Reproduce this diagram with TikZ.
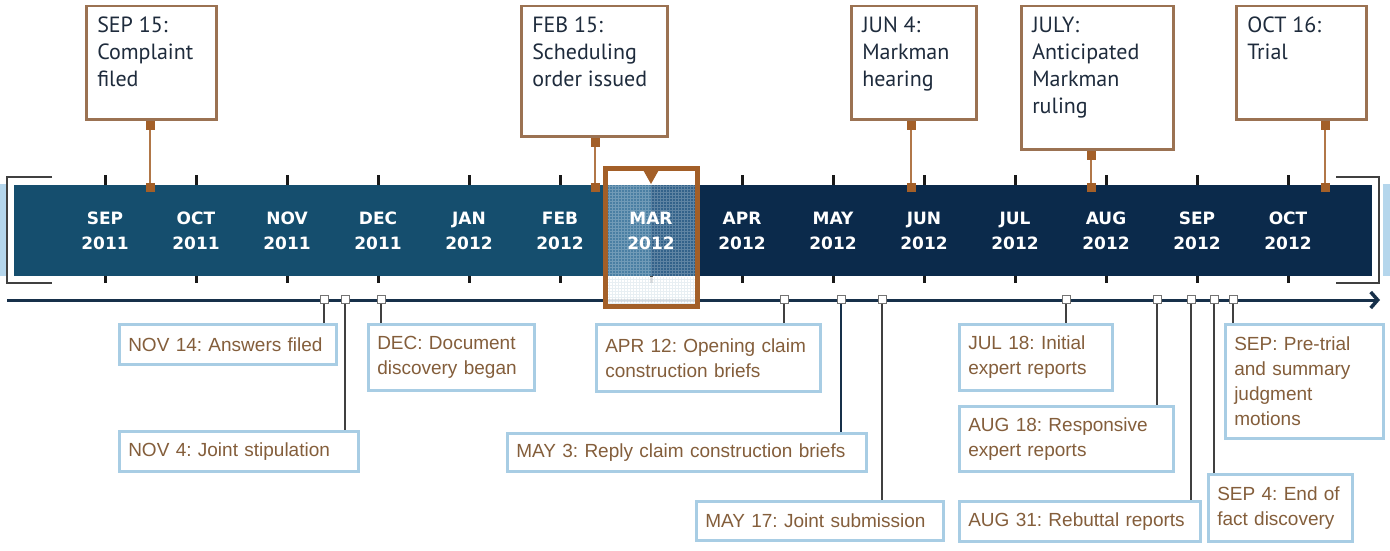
\documentclass[tikz,border=0pt]{standalone}
\usepackage{fontspec}
\setmainfont{Liberation Sans}
\newfontfamily\topfont{PT Sans}
\newfontfamily\monthfont{DejaVu Sans}
\usetikzlibrary{arrows.meta,shadows}
\definecolor{barA}{HTML}{154E6E}
\definecolor{barB}{HTML}{0B2A4B}
\definecolor{marA}{HTML}{4A7FA3}
\definecolor{marB}{HTML}{33628A}
\definecolor{brn}{HTML}{A35F28}
\definecolor{tborder}{HTML}{9B7252}
\definecolor{ttext}{HTML}{1E2B3C}
\definecolor{lborder}{HTML}{A8CDE4}
\definecolor{ltext}{HTML}{845E3B}
\definecolor{lineC}{HTML}{17304A}
\definecolor{strip}{HTML}{B5D6EC}
\frenchspacing
\begin{document}
\frenchspacing
\begin{tikzpicture}[x=1pt,y=-1pt,
  tbox/.style={draw=tborder, line width=2.5pt, fill=white, anchor=north west,
    inner xsep=11pt, inner ysep=11pt, text=ttext,
    font=\topfont\fontsize{22}{27}\selectfont,
    drop shadow={shadow xshift=1.5pt, shadow yshift=-1.5pt, opacity=0.3}},
  lbox/.style={draw=lborder, line width=2.5pt, fill=white, anchor=north west,
    inner xsep=9pt, inner ysep=0pt, text=ltext, align=left,
    font=\fontsize{19}{25}\selectfont,
    drop shadow={shadow xshift=1.2pt, shadow yshift=-1.2pt, opacity=0.15}},
  month/.style={text=white, align=center, font=\monthfont\bfseries\fontsize{17}{25}\selectfont},
  tsq/.style={fill=brn, minimum size=9pt, inner sep=0pt},
  bsq/.style={draw=black!55, fill=white, line width=0.8pt, minimum size=8pt, inner sep=0pt},
  tcon/.style={draw=brn!85, line width=1.3pt},
  bcon/.style={draw=black!75, line width=1.1pt},
  tickm/.style={draw=black!90, line width=3pt},
  brk/.style={draw=black!75, line width=2pt},
  tline/.style={draw=lineC, line width=3pt},
  marframe/.style={draw=brn, line width=5pt, inner sep=0pt}
]
\useasboundingbox (0,0) rectangle (1390,551);
\fill[white] (0,0) rectangle (1390,551);

% side strips and bar
\fill[strip] (0,184) rectangle (6,276);
\fill[strip] (1383,184) rectangle (1390,276);
\fill[barA] (14,185) rectangle (605,276);
\fill[barB] (605,185) rectangle (1372,276);

% brackets
\draw[brk] (52,177) -- (7,177) -- (7,283) -- (52,283);
\draw[brk] (1336,177) -- (1379,177) -- (1379,283) -- (1336,283);

% ticks
\foreach \x in {105,196,...,1288} {
  \draw[tickm] (\x,175) -- (\x,185);
  \draw[tickm] (\x,276) -- (\x,283);
}

% timeline line
\coordinate (lstart) at (7,300);
\coordinate (lend) at (1380,300);
\draw[tline, -{Straight Barb[length=7pt,width=16pt,line width=3.5pt]}] (lstart) -- (lend);

% March highlight
\fill[white] (605,168) rectangle (697,185);
\fill[marA] (605,185) rectangle (651,276);
\fill[marB] (651,185) rectangle (697,276);
\draw[white, opacity=0.22, line width=0.6pt, step=3pt] (605,185) grid (697,276);
\fill[white, opacity=0.88] (605,277) rectangle (697,306);
\draw[marA, opacity=0.12, line width=0.6pt, step=3pt] (605,277) grid (697,306);

% month labels
\foreach \x/\m/\y [count=\i] in {105/SEP/2011,196/OCT/2011,287/NOV/2011,378/DEC/2011,
  469/JAN/2012,560/FEB/2012,651/MAR/2012,742/APR/2012,833/MAY/2012,924/JUN/2012,
  1015/JUL/2012,1106/AUG/2012,1197/SEP/2012,1288/OCT/2012}
  \node[month] (m\i) at (\x,230.5) {\m\\\y};

\node[marframe, minimum width=92pt, minimum height=138pt] (mar) at (651,237) {};
\fill[brn] (642,168) -- (660,168) -- (651,184) -- cycle;

% top boxes
\node[tbox] (sep15) at (85,5) {\parbox[t][91pt][t]{108pt}{\raggedright SEP 15:\\Complaint\\filed}};
\node[tbox] (feb15) at (520,5) {\parbox[t][108pt][t]{124pt}{\raggedright FEB 15:\\Scheduling\\order issued}};
\node[tbox] (jun4) at (850,5) {\parbox[t][91pt][t]{103pt}{\raggedright JUN 4:\\Markman\\hearing}};
\node[tbox] (july) at (1020,5) {\parbox[t][121pt][t]{130pt}{\raggedright JULY:\\Anticipated\\Markman\\ruling}};
\node[tbox] (oct16) at (1235,5) {\parbox[t][91pt][t]{108pt}{\raggedright OCT 16:\\Trial}};

\foreach \n/\x in {sep15/150, feb15/595, jun4/911, july/1091, oct16/1325} {
  \coordinate (bt-\n) at (\x,185);
  \draw[tcon] (bt-\n) -- (bt-\n |- \n.south);
  \node[tsq, anchor=north] (sqa-\n) at (bt-\n |- \n.south) {};
  \node[tsq] (sqb-\n) at ([yshift=-2pt]bt-\n) {};
}

% bottom boxes
\node[lbox, text width=199pt, minimum height=40pt] (nov14) at (118,323) {NOV 14: Answers filed};
\node[lbox, text width=148pt, minimum height=66pt] (dec) at (367,323) {DEC: Document\\discovery began};
\node[lbox, text width=221pt, minimum height=40pt] (nov4) at (118,430) {NOV 4: Joint stipulation};
\node[lbox, text width=206pt, minimum height=67pt] (apr12) at (595,323) {APR 12: Opening claim\\construction briefs};
\node[lbox, text width=341pt, minimum height=38pt] (may3) at (506,432) {MAY 3: Reply claim construction briefs};
\node[lbox, text width=229pt, minimum height=39pt] (may17) at (695,500) {MAY 17: Joint submission};
\node[lbox, text width=135pt, minimum height=66pt] (jul18) at (958,323) {JUL 18: Initial\\expert reports};
\node[lbox, text width=196pt, minimum height=65pt] (aug18) at (958,405) {AUG 18: Responsive\\expert reports};
\node[lbox, text width=223pt, minimum height=40pt] (aug31) at (958,500) {AUG 31: Rebuttal reports};
\node[lbox, text width=126pt, minimum height=67pt] (sep4) at (1207,473) {SEP 4: End of\\fact discovery};
\node[lbox, text width=140pt, minimum height=114pt] (sepp) at (1224,323) {SEP: Pre-trial\\and summary\\judgment\\motions};

% bottom connectors and markers
\foreach \n/\x in {nov14/324, nov4/345, dec/381, apr12/784, may17/882,
  jul18/1066, aug18/1157, aug31/1191, sep4/1214, sepp/1233} {
  \coordinate (bp-\n) at (\x,300);
  \draw[bcon] (bp-\n) -- (bp-\n |- \n.north);
}
\coordinate (bp-may3) at (841,300);
\draw[bcon, draw=lineC, line width=2pt] (bp-may3) -- (bp-may3 |- may3.north);
\foreach \n in {nov14, nov4, dec, apr12, may3, may17, jul18, aug18, aug31, sep4, sepp}
  \node[bsq] (sq-\n) at ([yshift=1pt]bp-\n) {};
\end{tikzpicture}
\end{document}
